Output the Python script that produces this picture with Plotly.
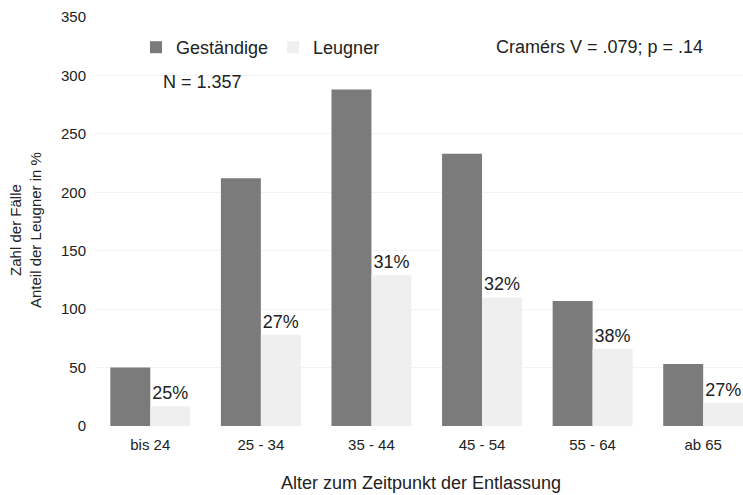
import plotly.graph_objects as go

# Altersgruppen zum Zeitpunkt der Entlassung
categories = ["bis 24", "25 - 34", "35 - 44", "45 - 54", "55 - 64", "ab 65"]
gestaendige = [50, 212, 288, 233, 107, 53]
leugner = [17, 78, 129, 110, 66, 20]
leugner_pct = ["25%", "27%", "31%", "32%", "38%", "27%"]
y_ticks = [0, 50, 100, 150, 200, 250, 300, 350]

FONT = "Liberation Sans, Arial, sans-serif"
TXT = "#222222"
DARK = "#7b7b7b"
LIGHT = "#efefef"

W, H = 743, 495
M_L, M_R, M_T, M_B = 95, 0, 17, 69
PW, PH = W - M_L - M_R, H - M_T - M_B


def px(x):
    return (x - M_L) / PW


def py(y):
    return (H - M_B - y) / PH


fig = go.Figure()

fig.add_trace(
    go.Bar(
        x=categories,
        y=gestaendige,
        name="Geständige",
        marker_color=DARK,
        marker_line_width=0,
    )
)
fig.add_trace(
    go.Bar(
        x=categories,
        y=leugner,
        name="Leugner",
        marker_color=LIGHT,
        marker_line_width=0,
        text=leugner_pct,
        textposition="outside",
        textfont=dict(family=FONT, size=18, color=TXT),
        cliponaxis=False,
    )
)

fig.update_layout(
    width=W,
    height=H,
    margin=dict(l=M_L, r=M_R, t=M_T, b=M_B),
    paper_bgcolor="white",
    plot_bgcolor="white",
    barmode="group",
    bargap=0.277,
    bargroupgap=0,
    font=dict(family=FONT, size=15, color=TXT),
    showlegend=True,
    legend=dict(
        orientation="h",
        x=px(136),
        y=py(29),
        xanchor="left",
        yanchor="top",
        bgcolor="rgba(0,0,0,0)",
        font=dict(family=FONT, size=18, color=TXT),
        itemwidth=30,
        traceorder="normal",
    ),
)

fig.update_xaxes(
    range=[-0.5, 5.36],
    showline=False,
    showgrid=False,
    ticks="",
    ticklabelstandoff=8,
    tickfont=dict(family=FONT, size=15, color=TXT),
)
fig.update_yaxes(
    range=[0, 350],
    tickvals=y_ticks,
    showline=False,
    zeroline=False,
    showgrid=True,
    gridcolor="#f3f3f3",
    ticks="",
    ticklabelstandoff=8,
    tickfont=dict(family=FONT, size=15, color=TXT),
)

fig.add_annotation(
    text="N = 1.357", xref="paper", yref="paper", x=px(161), y=py(82),
    xanchor="left", yanchor="middle", showarrow=False,
    font=dict(family=FONT, size=18, color=TXT),
)
fig.add_annotation(
    text="Cramérs V = .079; p = .14", xref="paper", yref="paper", x=px(494), y=py(47),
    xanchor="left", yanchor="middle", showarrow=False,
    font=dict(family=FONT, size=18, color=TXT),
)
fig.add_annotation(
    text="Zahl der Fälle<br>Anteil der Leugner in %", xref="paper", yref="paper",
    x=px(25), y=py(230), xanchor="center", yanchor="middle", textangle=-90,
    showarrow=False,
    font=dict(family=FONT, size=15, color=TXT),
)
fig.add_annotation(
    text="Alter zum Zeitpunkt der Entlassung", xref="paper", yref="paper",
    x=px(421), y=py(483), xanchor="center", yanchor="middle", showarrow=False,
    font=dict(family=FONT, size=18, color=TXT),
)

fig.write_html(
    "out.html",
    config={"displayModeBar": False},
    post_script="document.body.style.margin='0px';",
)
